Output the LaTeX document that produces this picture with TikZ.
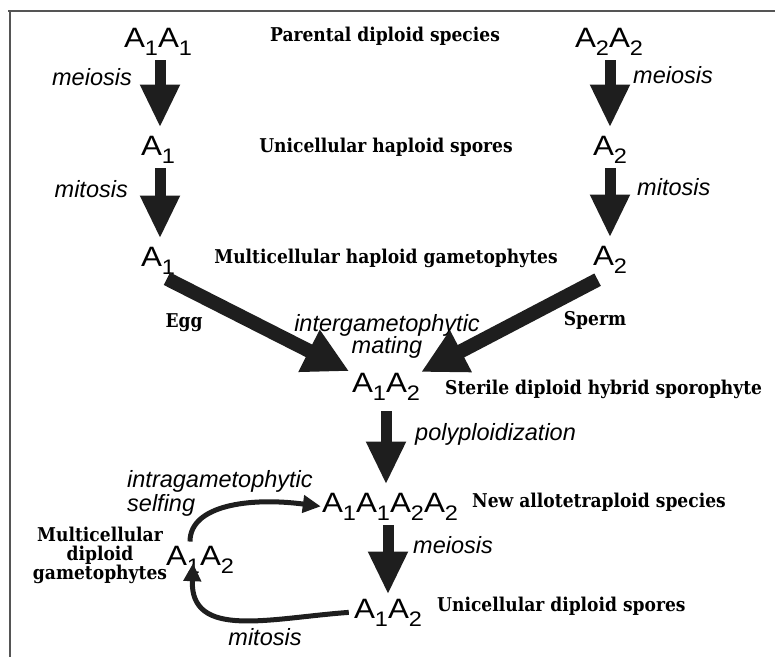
\documentclass[tikz,border=0pt]{standalone}
\usepackage{fontspec}
\setmainfont{DejaVu Serif}[FakeStretch=0.9]
\newfontfamily\sansf{Liberation Sans}
\newfontfamily\genf[FakeStretch=1.12]{Liberation Sans}
\usetikzlibrary{arrows.meta}
\definecolor{arr}{HTML}{1E1E1E}
\definecolor{frame}{HTML}{555555}
\newcommand{\sbs}[1]{\raisebox{-8pt}{\fontsize{21}{21}\selectfont #1}}
\tikzset{
  gen/.style={inner sep=0pt, anchor=base, font=\genf\fontsize{28}{28}\selectfont},
  lab/.style={inner sep=0pt, anchor=base, font=\bfseries\fontsize{19}{19}\selectfont},
  proc/.style={inner sep=0pt, font=\sansf\itshape\fontsize{23.5}{23.5}\selectfont},
  varrow/.style={draw=arr, line width=11pt, -{Triangle[length=43pt,width=37pt]}, shorten <=5pt, shorten >=8pt},
  darrow/.style={draw=arr, line width=14pt, -{Triangle[length=45pt,width=44pt]}},
  carrow/.style={draw=arr, line width=5pt, -{Triangle[length=18pt,width=17pt]}}
}
\begin{document}
\begin{tikzpicture}[x=1pt,y=-1pt]
\useasboundingbox (0,0) rectangle (775,657);
% frame
\draw[frame, line width=1.3pt] (8,11) -- (775,11);
\draw[frame, line width=1.3pt] (10,11) -- (10,657);
% column coordinates
\coordinate (cL) at (160,0);
\coordinate (cR) at (610,0);
\coordinate (cM) at (386,0);
\coordinate (cB) at (388,0);
% genotypes
\node[gen] (p1) at (158,47) {A\sbs{1}A\sbs{1}};
\node[gen] (p2) at (609,47) {A\sbs{2}A\sbs{2}};
\node[gen] (s1) at (158,155) {A\sbs{1}};
\node[gen] (s2) at (610,155) {A\sbs{2}};
\node[gen] (g1) at (158,266) {A\sbs{1}};
\node[gen] (g2) at (610,265) {A\sbs{2}};
\node[gen] (hyb) at (386,392) {A\sbs{1}A\sbs{2}};
\node[gen] (tet) at (390,512) {A\sbs{1}A\sbs{1}A\sbs{2}A\sbs{2}};
\node[gen] (sp) at (388,618) {A\sbs{1}A\sbs{2}};
\node[gen] (lg) at (200,565) {A\sbs{1}A\sbs{2}};
% stage labels
\node[lab] (par) at (385,41) {Parental diploid species};
\node[lab] (uni) at (386,152) {Unicellular haploid spores};
\node[lab] (mhg) at (386,263) {Multicellular haploid gametophytes};
\node[lab, anchor=base west] (ster) at (445,394) {Sterile diploid hybrid sporophyte};
\node[lab, anchor=base west] (newal) at (472,507) {New allotetraploid species};
\node[lab, anchor=base west] (unid) at (437,611) {Unicellular diploid spores};
\node[lab] (egg) at (184,327) {Egg};
\node[lab] (sperm) at (595,325) {Sperm};
\node[lab] (mdg1) at (100,541) {Multicellular};
\node[lab] (mdg2) at (100,560) {diploid};
\node[lab] (mdg3) at (100,579) {gametophytes};
% process labels
\node[proc, anchor=base east] (meiL) at (132,85) {meiosis};
\node[proc, anchor=base east] (mitL) at (128,197) {mitosis};
\node[proc, anchor=base west] (meiR) at (633,83) {meiosis};
\node[proc, anchor=base west] (mitR) at (637,195) {mitosis};
\node[proc, anchor=base] (inter1) at (387,331) {intergametophytic};
\node[proc, anchor=base] (inter2) at (387,353) {mating};
\node[proc, anchor=base west] (poly) at (415,440) {polyploidization};
\node[proc, anchor=base west] (meiB) at (413,553) {meiosis};
\node[proc, anchor=base west] (intra1) at (127,487) {intragametophytic};
\node[proc, anchor=base west] (intra2) at (127,511) {selfing};
\node[proc, anchor=base] (mitB) at (265,645) {mitosis};
% vertical arrows
\draw[varrow] (p1.south -| cL) -- (s1.north -| cL);
\draw[varrow] (s1.south -| cL) -- (g1.north -| cL);
\draw[varrow] (p2.south -| cR) -- (s2.north -| cR);
\draw[varrow] (s2.south -| cR) -- (g2.north -| cR);
\draw[varrow, shorten <=11pt] (hyb.south -| cM) -- (tet.north -| cM);
\draw[varrow, shorten >=4pt] (tet.south -| cB) -- (sp.north -| cB);
% diagonal arrows
\draw[darrow, shorten <=10pt, shorten >=3pt] (g1.south) -- (hyb.north west);
\draw[darrow, shorten <=14pt, shorten >=1pt] (g2.south) -- (hyb.north east);
% curved arrows
\draw[carrow] ([xshift=-10pt,yshift=4pt]lg.north) .. controls (190,505) and (250,497) .. ([xshift=-1pt]tet.west);
\draw[carrow] ([xshift=-5pt]sp.west) .. controls (270,618) and (190,640) .. ([xshift=-7pt,yshift=10pt]lg.south);
\end{tikzpicture}
\end{document}
